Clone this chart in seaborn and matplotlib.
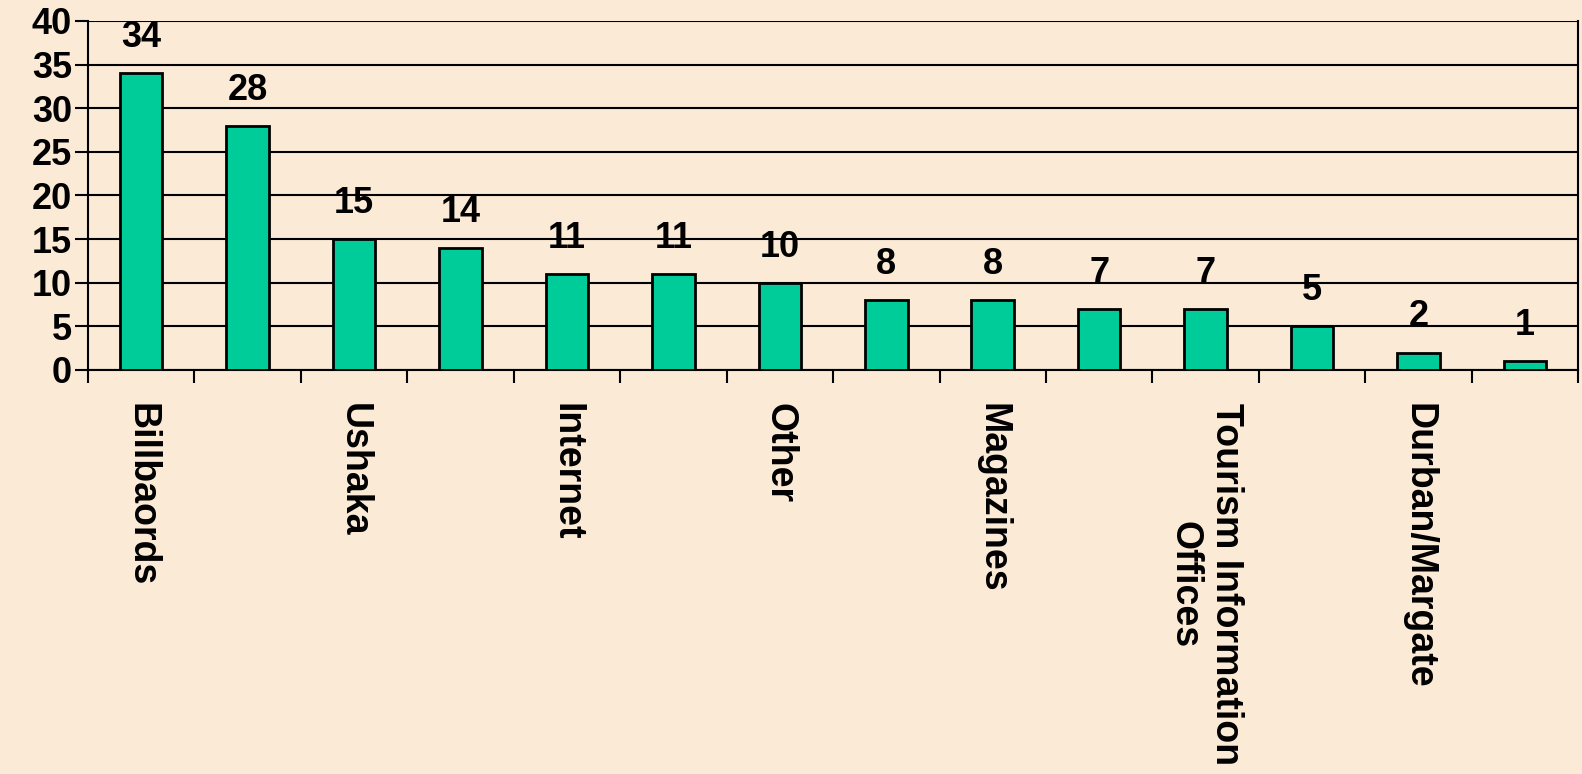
import numpy as np
import pandas as pd
import seaborn as sns
import matplotlib.pyplot as plt
from matplotlib.ticker import FixedLocator

# categories (only every other one is labelled on the original axis)
categories = ["Billbaords", "cat 2", "Ushaka", "cat 4", "Internet", "cat 6", "Other",
              "cat 8", "Magazines", "cat 10", "Tourism Information\nOffices", "cat 12",
              "Durban/Margate", "cat 14"]
tick_labels = ["Billbaords", "", "Ushaka", "", "Internet", "", "Other",
               "", "Magazines", "", "Tourism Information\nOffices", "",
               "Durban/Margate", ""]
counts = [34, 28, 15, 14, 11, 11, 10, 8, 8, 7, 7, 5, 2, 1]

bg = "#FAEAD6"
sns.set_style("white")
plt.rcParams["font.family"] = ["Liberation Sans", "DejaVu Sans"]
plt.rcParams["font.weight"] = "bold"
plt.rcParams["text.color"] = "black"
plt.rcParams["xtick.color"] = "black"
plt.rcParams["ytick.color"] = "black"

df = pd.DataFrame({"Category": categories, "Count": counts})

fig = plt.figure(figsize=(15.82, 7.74), dpi=100, facecolor=bg)
ax = fig.add_axes([0.0556, 0.522, 0.942, 0.451])
ax.set_facecolor(bg)

sns.barplot(data=df, x="Category", y="Count", order=categories, color="#00CC99",
            saturation=1, width=0.4, edgecolor="black", linewidth=2, ax=ax, zorder=3)

ax.bar_label(ax.containers[0], fmt="%d", padding=13, fontsize=26, fontweight="bold",
             color="black")

ax.set_ylim(0, 40)
ax.set_yticks(range(0, 41, 5))
ax.yaxis.grid(True, color="black", linewidth=1.5, zorder=0)
ax.set_axisbelow(True)
ax.tick_params(axis="y", left=True, length=9.5, width=1.5, labelsize=26, pad=2,
               color="black", labelcolor="black")

ax.set_xlim(-0.5, len(categories) - 0.5)
ax.set_xticks(range(len(categories)))
ax.set_xticklabels(tick_labels, rotation=270, ha="center", va="top",
                   fontsize=27, fontweight="bold", multialignment="center")
ax.xaxis.set_minor_locator(FixedLocator(np.arange(-0.5, len(categories), 1)))
ax.tick_params(axis="x", which="major", bottom=True, length=0, pad=24, labelcolor="black")
ax.tick_params(axis="x", which="minor", bottom=True, length=9, width=1.5, color="black")
ax.set_xlabel("")
ax.set_ylabel("")

for side in ["left", "bottom", "right"]:
    ax.spines[side].set_color("black")
    ax.spines[side].set_linewidth(1.5)
ax.spines["top"].set_visible(False)

fig.savefig("out.png", dpi=100, facecolor=bg)
